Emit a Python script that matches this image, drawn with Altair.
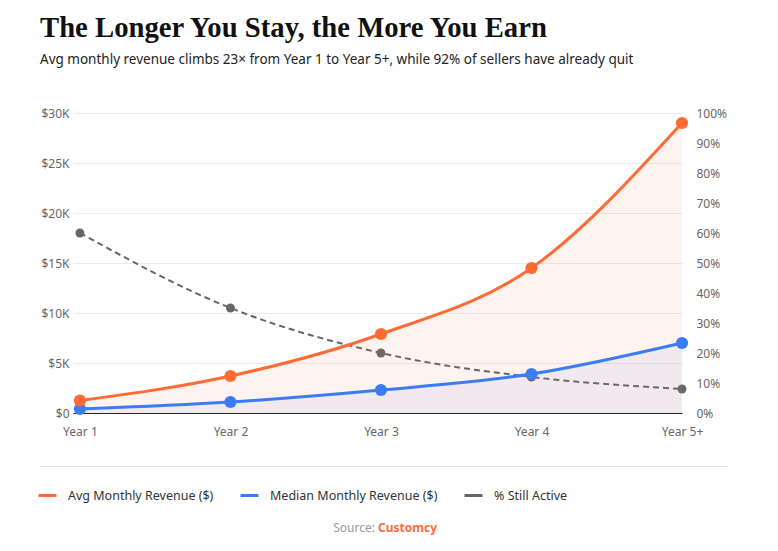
import altair as alt
import pandas as pd

# Seller tenure buckets
YEARS = ["Year 1", "Year 2", "Year 3", "Year 4", "Year 5+"]
# Average and median monthly revenue (USD)
AVG_REVENUE = [1250, 3700, 7900, 14500, 29000]
MEDIAN_REVENUE = [400, 1100, 2300, 3900, 7000]
# Share of sellers still active (fraction)
STILL_ACTIVE = [0.60, 0.35, 0.20, 0.12, 0.08]

AVG_NAME = "Avg Monthly Revenue ($)"
MED_NAME = "Median Monthly Revenue ($)"
ACT_NAME = "% Still Active"

ORANGE = "#FF6B35"
BLUE = "#3B7CF5"
GRAY = "#666666"
FONT = "Noto Sans"

df = pd.DataFrame({
    "idx": list(range(len(YEARS))),
    "year": YEARS,
    AVG_NAME: AVG_REVENUE,
    MED_NAME: MEDIAN_REVENUE,
    ACT_NAME: STILL_ACTIVE,
})

year_expr = "[" + ",".join(f"'{y}'" for y in YEARS) + "][datum.value]"

x_enc = alt.X(
    "idx:Q",
    scale=alt.Scale(domain=[-0.046, len(YEARS) - 1], nice=False, zero=False),
    axis=alt.Axis(
        values=list(range(len(YEARS))),
        labelExpr=year_expr,
        title=None,
        grid=False,
        ticks=False,
        domain=True,
        domainColor="#222",
        domainWidth=1,
        labelFlush=False,
        labelPadding=13,
        labelColor="#666",
        labelFont=FONT,
        labelFontSize=12,
    ),
)

color_scale = alt.Scale(domain=[AVG_NAME, MED_NAME, ACT_NAME], range=[ORANGE, BLUE, GRAY])
legend = alt.Legend(
    orient="none",
    legendX=-36,
    legendY=372,
    padding=0,
    direction="horizontal",
    title=None,
    symbolType="stroke",
    symbolSize=324,
    symbolStrokeWidth=3,
    labelFont=FONT,
    labelFontSize=12.5,
    labelColor="#333",
    labelOffset=10,
    labelLimit=400,
    columnPadding=20,
)

base = alt.Chart(df)

# Right axis: share of sellers still active
y_pct = alt.Y(
    "value:Q",
    scale=alt.Scale(domain=[0, 1]),
    axis=alt.Axis(
        orient="right",
        format=".0%",
        values=[i / 10 for i in range(11)],
        title=None,
        grid=False,
        ticks=False,
        domain=False,
        labelPadding=14,
        labelColor="#666",
        labelFont=FONT,
        labelFontSize=12,
    ),
)
active = base.transform_fold([ACT_NAME], as_=["series", "value"])
active_line = active.mark_line(strokeWidth=2, strokeDash=[6, 4], interpolate="monotone").encode(
    x=x_enc, y=y_pct, color=alt.Color("series:N", scale=color_scale, legend=legend)
)
active_pts = active.mark_circle(size=80, opacity=1).encode(
    x=x_enc, y=y_pct, color=alt.Color("series:N", scale=color_scale, legend=legend)
)
right = alt.layer(active_line, active_pts)

# Left axis: revenue
rev_axis = alt.Axis(
    orient="left",
    values=list(range(0, 30001, 5000)),
    labelExpr="datum.value == 0 ? '$0' : '$' + datum.value / 1000 + 'K'",
    title=None,
    grid=True,
    gridColor="#ececec",
    ticks=False,
    domain=False,
    labelPadding=4,
    labelColor="#666",
    labelFont=FONT,
    labelFontSize=12,
)
rev_scale = alt.Scale(domain=[0, 30000])

med_area = base.mark_area(color=BLUE, opacity=0.08, interpolate="monotone").encode(
    x=x_enc, y=alt.Y(f"{MED_NAME}:Q", scale=rev_scale, axis=rev_axis)
)
avg_area = base.mark_area(color=ORANGE, opacity=0.08, interpolate="monotone").encode(
    x=x_enc, y=alt.Y(f"{AVG_NAME}:Q", scale=rev_scale, axis=rev_axis)
)
rev = base.transform_fold([MED_NAME, AVG_NAME], as_=["series", "value"])
y_rev = alt.Y("value:Q", scale=rev_scale, axis=rev_axis)
rev_lines = rev.mark_line(strokeWidth=3, interpolate="monotone").encode(
    x=x_enc, y=y_rev, color=alt.Color("series:N", scale=color_scale, legend=legend),
    detail="series:N",
)
rev_pts = rev.mark_circle(size=150, opacity=1).encode(
    x=x_enc, y=y_rev, color=alt.Color("series:N", scale=color_scale, legend=legend)
)
left = alt.layer(med_area, avg_area, rev_lines, rev_pts)

# Footer: separator and source note
sep = alt.Chart(pd.DataFrame({"k": [0]})).mark_rule(color="#e3e3e3", strokeWidth=1).encode(
    x=alt.value(-33), x2=alt.value(655), y=alt.value(353.5)
)
src_lbl = alt.Chart(pd.DataFrame({"t": ["Source:"]})).mark_text(
    align="right", baseline="middle", font=FONT, fontSize=12, color="#999"
).encode(text="t:N", x=alt.value(302), y=alt.value(415))
src_name = alt.Chart(pd.DataFrame({"t": ["Customcy"]})).mark_text(
    align="left", baseline="middle", font=FONT, fontSize=12, fontWeight="bold", color=ORANGE
).encode(text="t:N", x=alt.value(305), y=alt.value(415))

chart = (
    alt.layer(right, left, sep, src_lbl, src_name)
    .resolve_scale(y="independent")
    .properties(
        width=609,
        height=300,
        autosize=alt.AutoSizeParams(type="none"),
        padding={"left": 73, "top": 113, "right": 96, "bottom": 138},
        title=alt.TitleParams(
            text="The Longer You Stay, the More You Earn",
            subtitle="Avg monthly revenue climbs 23\u00d7 from Year 1 to Year 5+, while 92% of sellers have already quit",
            anchor="start",
            frame="bounds",
            dx=3,
            font="Liberation Serif",
            fontSize=28.7,
            fontWeight="bold",
            color="#111",
            subtitleFont=FONT,
            subtitleFontSize=13.5,
            subtitleColor="#222",
            subtitlePadding=10,
            offset=41,
        ),
    )
    .configure_view(stroke=None)
)

chart.save("out.html", embed_options={"renderer": "svg", "actions": False})
